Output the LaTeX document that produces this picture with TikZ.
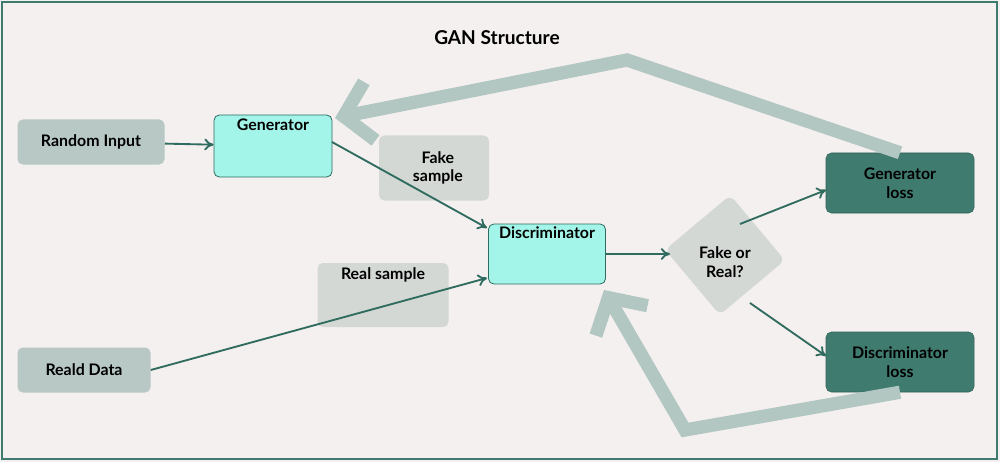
\documentclass[tikz,border=0pt]{standalone}
\usepackage{fontspec}
\setmainfont{Lato}
\usetikzlibrary{arrows.meta,shapes.geometric}
\definecolor{bg}{HTML}{F4F0EF}
\definecolor{frame}{HTML}{3E7A6E}
\definecolor{lnk}{HTML}{2F6B5E}
\definecolor{gg}{HTML}{B8C8C4}
\definecolor{lg}{HTML}{D3D8D5}
\definecolor{cy}{HTML}{A3F5E9}
\definecolor{dk}{HTML}{3F7B6F}
\definecolor{fb}{HTML}{B3C7C2}
\begin{document}
\begin{tikzpicture}[x=0.0265cm,y=-0.0265cm,
  every node/.style={font=\bfseries\large, align=center, inner sep=0pt},
  box/.style={rounded corners=4pt, minimum width=#1},
  gbox/.style={fill=gg, rounded corners=4pt},
  lbox/.style={fill=lg, rounded corners=4pt},
  cbox/.style={fill=cy, draw=lnk, line width=0.6pt, rounded corners=4pt},
  dbox/.style={fill=dk, draw=dk!80!black, rounded corners=4pt},
  con/.style={draw=lnk, line width=1.4pt, -{To[length=7pt,width=9pt]}},
  fbk/.style={draw=fb, line width=10pt, -{Straight Barb[length=20pt,width=45pt,line width=10pt]}, line join=miter}]
\fill[bg] (0,0) rectangle (1000,462);
\draw[frame, line width=1.2pt] (2,2) rectangle (997,459);
\node at (497,38) {\Large GAN Structure};
\node[gbox, minimum width=147*0.0265cm, minimum height=45*0.0265cm] (ri) at (91,142) {Random Input};
\node[cbox, minimum width=118*0.0265cm, minimum height=62*0.0265cm] (gen) at (273,146) {Generator\\[18pt]};
\node[lbox, minimum width=110*0.0265cm, minimum height=65*0.0265cm] (fs) at (434,168) {\ \ Fake\\\ \ sample};
\node[cbox, minimum width=117*0.0265cm, minimum height=60*0.0265cm] (dis) at (547,254) {Discriminator\\[18pt]};
\node[lbox, minimum width=131*0.0265cm, minimum height=64*0.0265cm] (rs) at (383,295) {Real sample\\[18pt]};
\node[gbox, minimum width=133*0.0265cm, minimum height=45*0.0265cm] (rd) at (84,370) {Reald Data};
\node[fill=lg, rounded corners=5pt, minimum width=85*0.0265cm, minimum height=85*0.0265cm, rotate=40] (fr) at (725,255) {};
\node at (725,262) {Fake or\\Real?};
\node[dbox, minimum width=148*0.0265cm, minimum height=60*0.0265cm] (gl) at (900,183) {Generator\\loss};
\node[dbox, minimum width=148*0.0265cm, minimum height=60*0.0265cm] (dl) at (900,362) {Discriminator\\loss};
\coordinate (t1) at (627,60);
\coordinate (t2) at (685,430);
\draw[fbk] (gl.north) ++(0,0) -- (t1) -- (335,118);
\draw[fbk] (dl.south) -- (t2) -- (604,290);
\draw[con] (ri) -- (gen);
\draw[con] (332,142) -- (487,228);
\draw[con] (rd.east) -- (487,278);
\draw[con] (dis.east) -- (670,254);
\draw[con] (740,224) -- (826,190);
\draw[con] (750,303) -- (826,356);
\end{tikzpicture}
\end{document}
